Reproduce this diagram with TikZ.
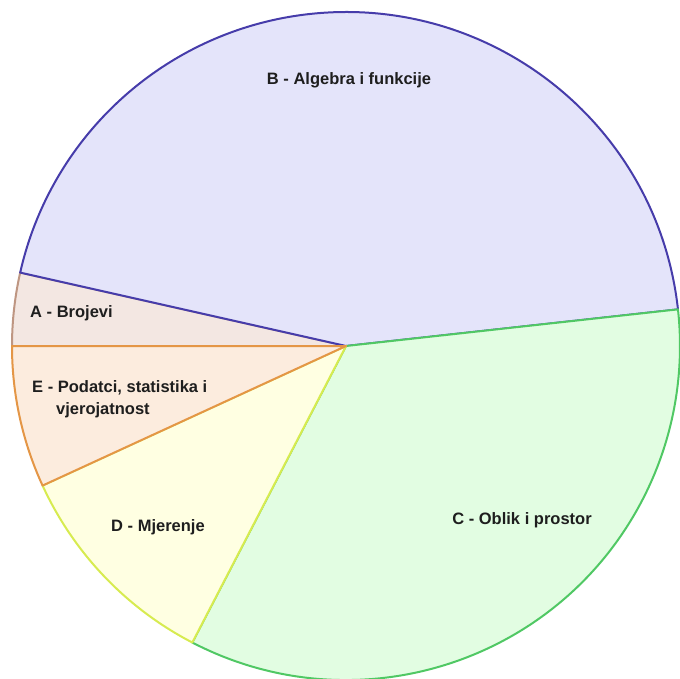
\documentclass[tikz,border=0pt]{standalone}
\usepackage{fontspec}
\setmainfont{Liberation Sans}
\begin{document}
\definecolor{bFill}{RGB}{228,228,250}
\definecolor{bLine}{RGB}{70,60,170}
\definecolor{aFill}{RGB}{243,231,226}
\definecolor{aLine}{RGB}{190,150,130}
\definecolor{eFill}{RGB}{252,236,222}
\definecolor{eLine}{RGB}{228,150,70}
\definecolor{dFill}{RGB}{255,255,226}
\definecolor{dLine}{RGB}{215,235,80}
\definecolor{cFill}{RGB}{226,253,226}
\definecolor{cLine}{RGB}{80,200,100}
\definecolor{labelInk}{RGB}{30,30,30}
\begin{tikzpicture}[x=1pt,y=1pt,
  slice/.style={line width=2pt,line join=round},
  lbl/.style={font=\fontsize{16.5}{23}\selectfont\bfseries,text=labelInk,inner sep=0pt}]
\useasboundingbox (0,0) rectangle (680,-678);
\def\R{334}
\coordinate (ctr) at (346,-346);
% slices, drawn in the order that lets each shared edge take the later colour
\filldraw[slice,fill=aFill,draw=aLine] (ctr) -- ++(167.3:\R) arc[start angle=167.3,end angle=180,radius=\R] -- cycle;
\filldraw[slice,fill=bFill,draw=bLine] (ctr) -- ++(6.3:\R) arc[start angle=6.3,end angle=167.3,radius=\R] -- cycle;
\filldraw[slice,fill=cFill,draw=cLine] (ctr) -- ++(242.6:\R) arc[start angle=242.6,end angle=366.3,radius=\R] -- cycle;
\filldraw[slice,fill=dFill,draw=dLine] (ctr) -- ++(204.7:\R) arc[start angle=204.7,end angle=242.6,radius=\R] -- cycle;
\filldraw[slice,fill=eFill,draw=eLine] (ctr) -- ++(180:\R) arc[start angle=180,end angle=204.7,radius=\R] -- cycle;
% labels
\node[lbl] (lb) at (349,-80) {B - Algebra i funkcije};
\node[lbl,anchor=west] (la) at (30,-313) {A - Brojevi};
\node[lbl,anchor=west] (le1) at (32,-388) {E - Podatci, statistika i};
\node[lbl,anchor=west] (le2) at (56,-410) {vjerojatnost};
\node[lbl] (ld) at (158,-527) {D - Mjerenje};
\node[lbl] (lc) at (522,-520) {C - Oblik i prostor};
\end{tikzpicture}
\end{document}
